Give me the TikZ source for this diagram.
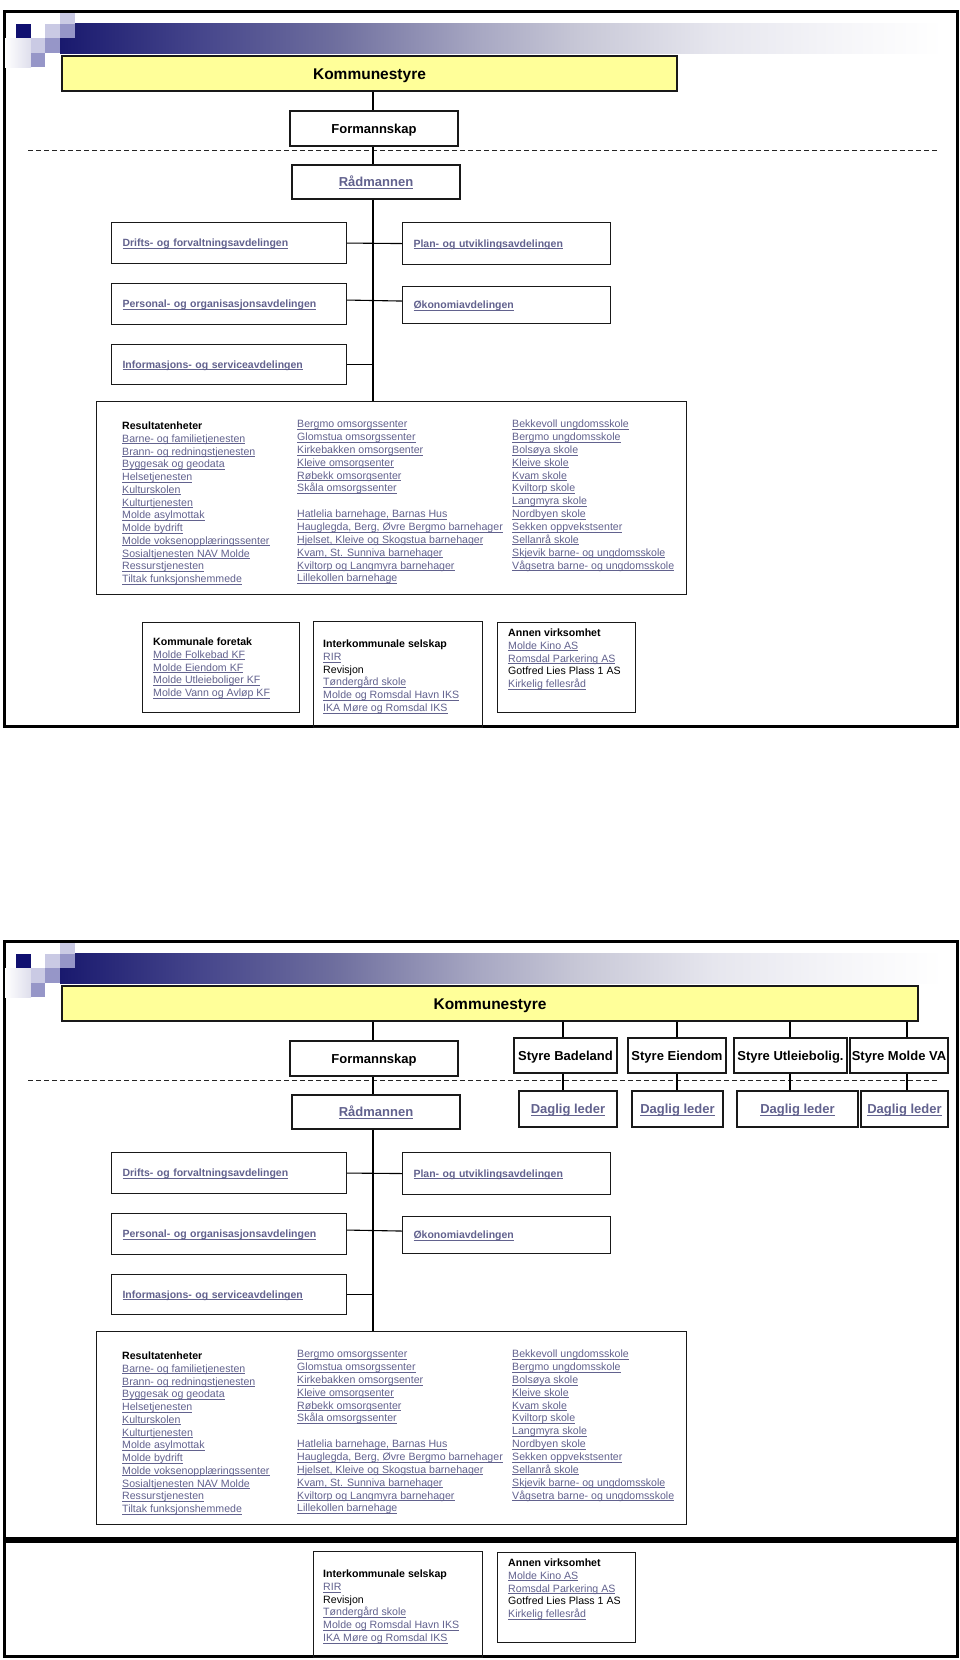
\documentclass[tikz,border=0pt]{standalone}
\usepackage{fontspec}
\setmainfont{Liberation Sans}

\definecolor{linkc}{RGB}{98,98,142}
\definecolor{ksfill}{RGB}{255,255,153}
\definecolor{navyc}{RGB}{16,16,112}
\definecolor{sqlight}{RGB}{202,202,228}
\definecolor{sqmed}{RGB}{150,150,200}
\definecolor{sqfaint}{RGB}{222,222,236}
\definecolor{bn0}{RGB}{25,25,110}
\definecolor{bn1}{RGB}{70,70,140}
\definecolor{bn2}{RGB}{110,110,158}
\definecolor{bn3}{RGB}{168,168,195}
\definecolor{bn4}{RGB}{200,200,215}
\definecolor{bn5}{RGB}{230,230,238}
\definecolor{bn6}{RGB}{246,246,249}
\pgfdeclarehorizontalshading{banner}{100bp}{color(0bp)=(bn0); color(25bp)=(bn0); color(33bp)=(bn1); color(40.5bp)=(bn2); color(48.8bp)=(bn3); color(54.5bp)=(bn4); color(62bp)=(bn5); color(69.5bp)=(bn6); color(75bp)=(white); color(100bp)=(white)}

\newcommand\ulk[1]{{\color{linkc}\setbox0\hbox{#1}\rlap{\rule[-0.16em]{\wd0}{0.055em}}\box0}}
\newcommand\fmtl[1]{\ulk{#1}}
\newcommand\fmtt[1]{\textbf{#1}}
\newcommand\fmtp[1]{#1}

\tikzset{
  pageframe/.style={draw=black, line width=3pt},
  obox/.style={draw=black!90, line width=1.1pt, rectangle, inner sep=0pt},
  hbox/.style={obox, font=\bfseries\fontsize{13}{15}\selectfont, text height=9.3pt, text depth=0pt},
  ksbox/.style={obox, fill=ksfill, font=\bfseries\fontsize{15.5}{18}\selectfont, text height=11.1pt, text depth=0pt, minimum height=35pt},
  dept/.style={obox, anchor=north west, font=\bfseries\fontsize{10.5}{12}\selectfont, inner xsep=11pt, inner ysep=0pt, align=left, text height=7.5pt, text depth=0pt},
  li/.style={anchor=base west, inner sep=0pt, font=\fontsize{10.6}{12.75}\selectfont},
  conn/.style={draw=black, line width=1.1pt},
  dashline/.style={draw=black!85, line width=1pt, dash pattern=on 5pt off 3pt}
}

\newcommand\listcol[5]{%
  \foreach \t/\s [count=\i from 0] in {#5} {
    \node[li] (#1\i) at (#2, #3+\i*#4) {\csname fmt\s\endcsname{\t}};
  }%
}

\newcommand\orgcore[1]{%
  % banner and squares
  \shade[shading=banner] (60,23) rectangle (943,53);
  \shade[left color=white, right color=sqfaint] (5,38) rectangle (31,67);
  \fill[navyc] (16,24) rectangle (31,38);
  \fill[sqlight] (45,24) rectangle (60,38);
  \fill[sqlight] (60,13) rectangle (75,24);
  \fill[sqmed] (60,24) rectangle (75,38);
  \fill[sqlight] (31,38) rectangle (45,53);
  \fill[sqmed] (45,38) rectangle (60,53);
  \fill[sqmed] (31,53) rectangle (45,67);
  % dashed separator
  \draw[dashline] (28,150) -- (938,150);
  % main chain
  \coordinate (sp#1) at (373,0);
  \node[hbox, minimum width=168pt, minimum height=35pt] (form#1) at (374,128.5) {Formannskap};
  \node[hbox, minimum width=168pt, minimum height=34pt] (rad#1) at (376,182) {\ulk{Rådmannen}};
  \node[dept, text width=213pt, minimum height=41pt] (drift#1) at (111,222) {\ulk{Drifts- og forvaltningsavdelingen}};
  \node[dept, text width=186pt, minimum height=42pt] (plan#1) at (402,222) {\ulk{Plan- og utviklingsavdelingen}};
  \node[dept, text width=213pt, minimum height=41pt] (pers#1) at (111,283) {\ulk{Personal- og organisasjonsavdelingen}};
  \node[dept, text width=186pt, minimum height=37pt] (oek#1) at (402,286) {\ulk{Økonomiavdelingen}};
  \node[dept, text width=213pt, minimum height=40pt] (info#1) at (111,344) {\ulk{Informasjons- og serviceavdelingen}};
  \node[obox, anchor=north west, minimum width=590pt, minimum height=193pt] (res#1) at (96,401) {};
  \draw[conn] (ks#1.south -| sp#1) -- (form#1.north -| sp#1);
  \draw[conn] (form#1.south -| sp#1) -- (rad#1.north -| sp#1);
  \draw[conn] (rad#1.south -| sp#1) -- (res#1.north -| sp#1);
  \draw[conn] (drift#1.east) -- (plan#1.west);
  \draw[conn] ([yshift=4pt]pers#1.east) -- ([yshift=4pt]oek#1.west);
  \draw[conn] (info#1.east) -- (info#1.east -| sp#1);
  % result units
  \listcol{ra#1}{122}{429.5}{12.75}{Resultatenheter/t,%
Barne- og familietjenesten/l,%
Brann- og redningstjenesten/l,%
Byggesak og geodata/l,%
Helsetjenesten/l,%
Kulturskolen/l,%
Kulturtjenesten/l,%
Molde asylmottak/l,%
Molde bydrift/l,%
Molde voksenopplæringssenter/l,%
Sosialtjenesten NAV Molde/l,%
Ressurstjenesten/l,%
Tiltak funksjonshemmede/l}%
  \listcol{rb#1}{297}{427.7}{12.85}{Bergmo omsorgssenter/l,%
Glomstua omsorgssenter/l,%
Kirkebakken omsorgsenter/l,%
Kleive omsorgsenter/l,%
Røbekk omsorgsenter/l,%
Skåla omsorgssenter/l}%
  \listcol{rc#1}{297}{517.6}{12.85}{{Hatlelia barnehage, Barnas Hus}/l,%
{Hauglegda, Berg, Øvre Bergmo barnehager}/l,%
{Hjelset, Kleive og Skogstua barnehager}/l,%
{Kvam, St. Sunniva barnehager}/l,%
Kviltorp og Langmyra barnehager/l,%
Lillekollen barnehage/l}%
  \listcol{rd#1}{512}{427.7}{12.85}{Bekkevoll ungdomsskole/l,%
Bergmo ungdomsskole/l,%
Bolsøya skole/l,%
Kleive skole/l,%
Kvam skole/l,%
Kviltorp skole/l,%
Langmyra skole/l,%
Nordbyen skole/l,%
Sekken oppvekstsenter/l,%
Sellanrå skole/l,%
Skjevik barne- og ungdomsskole/l,%
Vågsetra barne- og ungdomsskole/l}%
  % bottom boxes
  \node[obox, anchor=north west, minimum width=169pt, minimum height=106pt] (iks#1) at (313,621) {};
  \listcol{ik#1}{323}{647.7}{12.75}{Interkommunale selskap/t,%
RIR/l,%
Revisjon/p,%
Tøndergård skole/l,%
Molde og Romsdal Havn IKS/l,%
IKA Møre og Romsdal IKS/l}%
  \node[obox, anchor=north west, minimum width=138pt, minimum height=90pt] (ann#1) at (497,622) {};
  \listcol{an#1}{508}{636.5}{12.75}{Annen virksomhet/t,%
Molde Kino AS/l,%
Romsdal Parkering AS/l,%
Gotfred Lies Plass 1 AS/p,%
Kirkelig fellesråd/l}%
}

\begin{document}
\begin{tikzpicture}[x=1pt,y=-1pt]
\useasboundingbox (0,0) rectangle (960,1660);
\fill[white] (0,0) rectangle (960,1660);

% page frames
\draw[pageframe] (4,11) rectangle (957,726);
\draw[pageframe] (4,941) rectangle (957,1538.5);
\draw[pageframe] (4,1541.5) rectangle (957,1656);

% ---------- page 1 ----------
\node[ksbox, minimum width=615pt] (ksa) at (369.5,73.5) {Kommunestyre};
\orgcore{a}
\node[obox, anchor=north west, minimum width=157pt, minimum height=90pt] (kf) at (142,622) {};
\listcol{kf}{153}{645.5}{12.75}{Kommunale foretak/t,%
Molde Folkebad KF/l,%
Molde Eiendom KF/l,%
Molde Utleieboliger KF/l,%
Molde Vann og Avløp KF/l}

% ---------- page 2 ----------
\begin{scope}[yshift=-930pt]
\node[ksbox, minimum width=856pt] (ksb) at (490,73.5) {Kommunestyre};
\orgcore{b}
\coordinate (c1) at (563,0);
\coordinate (c2) at (677,0);
\coordinate (c3) at (790,0);
\coordinate (c4) at (907,0);
\node[hbox, minimum width=103pt, minimum height=35pt] (s1) at (565.5,125.5) {Styre Badeland};
\node[hbox, minimum width=98pt, minimum height=35pt] (s2) at (677,125.5) {Styre Eiendom};
\node[hbox, minimum width=113pt, minimum height=35pt] (s3) at (790.5,125.5) {Styre Utleiebolig.};
\node[hbox, minimum width=98pt, minimum height=35pt] (s4) at (899,125.5) {Styre Molde VA};
\node[hbox, minimum width=98pt, minimum height=36pt] (d1) at (568,179) {\ulk{Daglig leder}};
\node[hbox, minimum width=91pt, minimum height=36pt] (d2) at (677.5,179) {\ulk{Daglig leder}};
\node[hbox, minimum width=121pt, minimum height=36pt] (d3) at (797.5,179) {\ulk{Daglig leder}};
\node[hbox, minimum width=87pt, minimum height=36pt] (d4) at (904.5,179) {\ulk{Daglig leder}};
\foreach \k in {1,2,3,4} {
  \draw[conn] (ksb.south -| c\k) -- (s\k.north -| c\k);
  \draw[conn] (s\k.south -| c\k) -- (d\k.north -| c\k);
}
\end{scope}
\end{tikzpicture}
\end{document}
